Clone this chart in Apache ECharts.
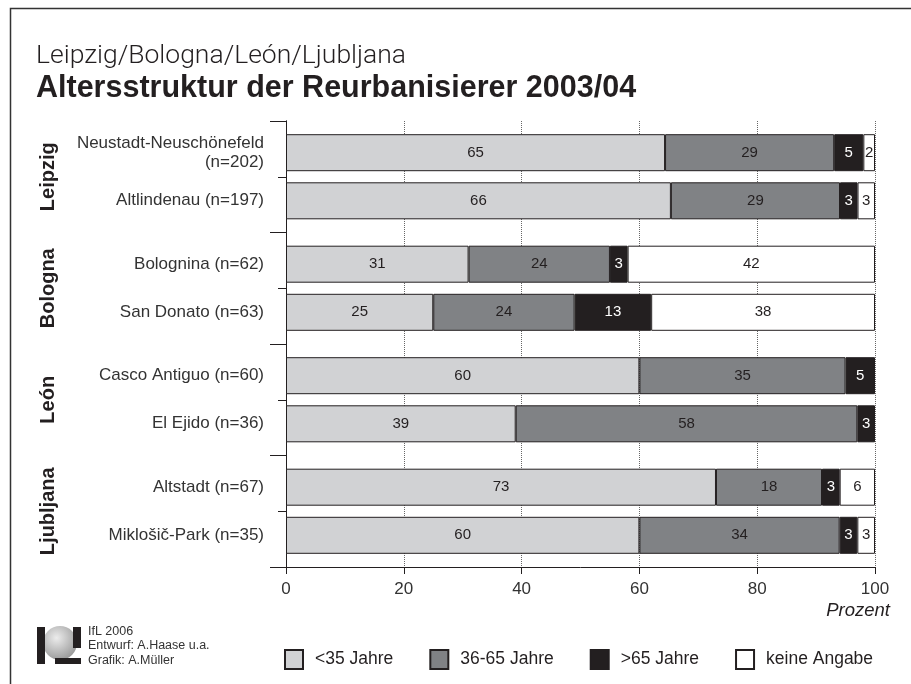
<!DOCTYPE html>
<html><head><meta charset="utf-8">
<script src="https://cdn.jsdelivr.net/npm/echarts@6/dist/echarts.min.js"></script>
<style>html,body{margin:0;padding:0;background:#fff}#c{width:911px;height:684px}</style>
</head><body><div id="c"></div>
<script>
// ---- data ----
const cities = ['Leipzig', 'Bologna', 'León', 'Ljubljana'];
const districts = ['Neustadt-Neuschönefeld\n(n=202)', 'Altlindenau (n=197)', 'Bolognina (n=62)', 'San Donato (n=63)',
  'Casco Antiguo (n=60)', 'El Ejido (n=36)', 'Altstadt (n=67)', 'Miklošič-Park (n=35)'];
const under35 = [65, 66, 31, 25, 60, 39, 73, 60];
const age36to65 = [29, 29, 24, 24, 35, 58, 18, 34];
const over65 = [5, 3, 3, 13, 5, 3, 3, 3];
const noAnswer = [2, 3, 42, 38, null, null, 6, 3];
const seriesNames = ['<35 Jahre', '36-65 Jahre', '>65 Jahre', 'keine Angabe'];
const xTicks = [0, 20, 40, 60, 80, 100];

// ---- build ----
const segs = [under35, age36to65, over65, noAnswer];
const colors = ['#d1d2d4', '#808285', '#231f20', '#ffffff'];
const labelColors = ['#231f20', '#231f20', '#ffffff', '#231f20'];
const rowSum = districts.map((_, i) => segs.reduce((s, a) => s + (a[i] || 0), 0));
const series = [];
['a', 'b'].forEach((stack, s) => {
  const idx = cities.map((_, c) => c * 2 + s);
  series.push({
    type: 'bar', name: 'lbl' + stack, stack: stack, yAxisIndex: 0,
    barWidth: 37, barGap: '30%', silent: true,
    data: idx.map(() => 0),
    itemStyle: { color: 'rgba(0,0,0,0)', borderWidth: 0 },
    label: { show: true, position: 'left', distance: 22, color: '#333', fontSize: 17,
      fontFamily: 'Liberation Sans', align: 'right', lineHeight: 19,
      formatter: p => districts[idx[p.dataIndex]] }
  });
  segs.forEach((arr, k) => {
    series.push({
      type: 'bar', name: seriesNames[k], stack: stack, yAxisIndex: 0,
      barWidth: 37, barGap: '30%',
      data: idx.map(i => arr[i] == null ? null : { value: arr[i] * 100 / rowSum[i], raw: arr[i] }),
      itemStyle: { color: colors[k], borderColor: '#231f20', borderWidth: 1 },
      label: { show: true, position: 'inside', color: labelColors[k], fontSize: 15,
        fontFamily: 'Liberation Sans',
        formatter: p => p.data && p.data.raw != null ? String(p.data.raw) : '' }
    });
  });
});

const chart = echarts.init(document.getElementById('c'), null, { renderer: 'canvas' });
chart.setOption({
  animation: false,
  backgroundColor: '#fff',
  textStyle: { fontFamily: 'Liberation Sans' },
  title: [
    { text: 'Leipzig/Bologna/León/Ljubljana', left: 31, top: 38,
      textStyle: { fontSize: 26.5, fontWeight: 300, fontFamily: 'Roboto', color: '#231f20' } },
    { text: 'Altersstruktur der Reurbanisierer 2003/04', left: 31, top: 68,
      textStyle: { fontSize: 30.5, fontWeight: 'bold', fontFamily: 'Liberation Sans', color: '#231f20' } }
  ],
  grid: { left: 286, top: 121, width: 589, height: 446, containLabel: false },
  xAxis: {
    type: 'value', min: xTicks[0], max: xTicks[xTicks.length - 1], interval: 20,
    axisLine: { show: true, lineStyle: { color: '#231f20', width: 1 } },
    axisTick: { show: true, length: 7, lineStyle: { color: '#231f20' } },
    axisLabel: { fontSize: 17, margin: 14, color: '#333', fontFamily: 'Liberation Sans' },
    splitLine: { show: true, lineStyle: { type: 'dotted', color: '#666', width: 1 } }
  },
  yAxis: [
    { type: 'category', data: cities, inverse: true, position: 'left',
      axisLine: { show: true, lineStyle: { color: '#231f20', width: 1 } },
      axisTick: { show: true, length: 16, lineStyle: { color: '#231f20' } },
      axisLabel: { interval: 0, rotate: 90, margin: 228, fontSize: 20, fontWeight: 'bold', color: '#231f20',
        fontFamily: 'Liberation Sans' },
      splitLine: { show: false } },
    { type: 'category', data: districts, inverse: true, position: 'left',
      axisLine: { show: true, lineStyle: { color: '#231f20', width: 1 } },
      axisTick: { show: true, length: 8, lineStyle: { color: '#231f20' } },
      axisLabel: { show: false }, splitLine: { show: false } }
  ],
  legend: {
    data: seriesNames, left: 279, top: 644, itemWidth: 18, itemHeight: 19, itemGap: 36,
    icon: 'rect', selectedMode: false,
    textStyle: { fontSize: 17.5, color: '#231f20', fontFamily: 'Liberation Sans', padding: [0, 0, 0, 7] }
  },
  series: series,
  graphic: [
    { type: 'rect', shape: { x: 10.5, y: 8.5, width: 1200, height: 1200 },
      style: { fill: 'none', stroke: '#333', lineWidth: 1.5 }, silent: true },
    { type: 'text', right: 21, top: 601,
      style: { text: 'Prozent', font: 'italic 18.5px "Liberation Sans"', fill: '#231f20' } },
    // logo
    { type: 'circle', shape: { cx: 60, cy: 643, r: 17 },
      style: { fill: new echarts.graphic.RadialGradient(0.4, 0.35, 0.8,
        [{ offset: 0, color: '#ececec' }, { offset: 1, color: '#8a8a8a' }]) } },
    { type: 'rect', shape: { x: 37, y: 627, width: 8, height: 37 }, style: { fill: '#231f20' } },
    { type: 'rect', shape: { x: 73, y: 627, width: 8, height: 21 }, style: { fill: '#231f20' } },
    { type: 'rect', shape: { x: 55, y: 658, width: 26, height: 6 }, style: { fill: '#231f20' } },
    { type: 'text', left: 88, top: 624,
      style: { text: 'IfL 2006\nEntwurf: A.Haase u.a.\nGrafik: A.Müller', font: '12.5px "Liberation Sans"',
        fill: '#333', lineHeight: 14.5 } }
  ]
});
</script></body></html>
